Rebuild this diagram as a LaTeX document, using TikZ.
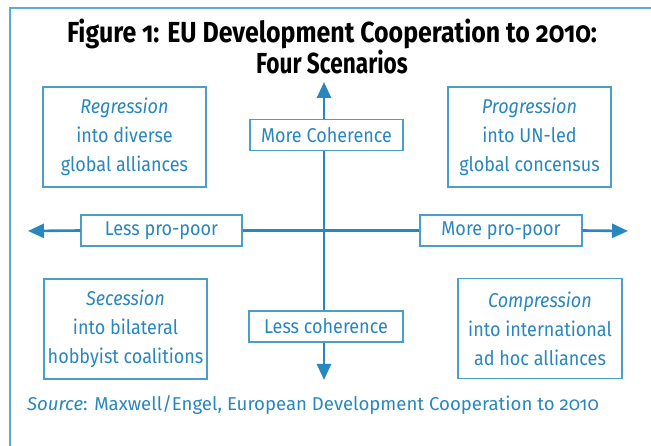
\documentclass[tikz,border=0pt]{standalone}
\usepackage{fontspec}
\usepackage{graphicx}
\setmainfont{Fira Sans}[Numbers=OldStyle]
\newfontfamily\boxfont{Fira Sans}[Numbers=OldStyle,FakeStretch=0.9]
\usetikzlibrary{arrows.meta}
\definecolor{inkblue}{RGB}{40,135,190}
\definecolor{boxblue}{RGB}{75,158,202}
\definecolor{frameblue}{RGB}{88,172,215}
\tikzset{
  scenario/.style={draw=boxblue, line width=1.4pt, fill=white, text=inkblue,
    minimum width=163pt, minimum height=100pt, inner sep=0pt, align=center,
    font=\boxfont\fontsize{20}{29}\selectfont},
  axislabel/.style={draw=boxblue, line width=1.4pt, fill=white, text=inkblue,
    minimum height=31pt, inner sep=0pt,
    font=\boxfont\fontsize{20}{22}\selectfont},
  axisline/.style={draw=inkblue, line width=2.6pt},
  axisarrow/.style={axisline, -{Triangle[length=16pt,width=14pt]}},
  titletext/.style={inner sep=0pt, anchor=base, text=black,
    font=\bfseries\fontsize{29}{32}\selectfont},
}
\begin{document}
\begin{tikzpicture}[x=1pt,y=-1pt]
\useasboundingbox (0,0) rectangle (651,446);
% outer frame on the top and left
\draw[frameblue, line width=2pt] (10,446) -- (10,8) -- (651,8);

% title
\node[titletext] (title1) at (332,43) {\scalebox{0.86}[1]{Figure 1: EU Development Cooperation to 2010:}};
\node[titletext] (title2) at (332,74) {\scalebox{0.78}[1]{Four Scenarios}};

% axis arrow tips and labels
\coordinate (tipN) at (324,82);
\coordinate (tipS) at (324,380);
\coordinate (tipW) at (28,231);
\coordinate (tipE) at (628,231);

\node[axislabel, minimum width=153pt] (morecoh) at (326.5,135) {More Coherence};
\node[axislabel, minimum width=154pt] (lesscoh) at (326,326.5) {Less coherence};
\node[axislabel, minimum width=161pt] (lesspoor) at (161.5,230.5) {Less pro-poor\hspace{10pt}};
\node[axislabel, minimum width=162pt] (morepoor) at (501,230.5) {More pro-poor};

% axes
\draw[axisline] (lesspoor.east) -- (morepoor.west);
\draw[axisline] (morecoh.south -| tipN) -- (lesscoh.north -| tipN);
\draw[axisarrow] (lesspoor.west) -- (tipW);
\draw[axisarrow] (morepoor.east) -- (tipE);
\draw[axisarrow] (morecoh.north -| tipN) -- (tipN);
\draw[axisarrow] (lesscoh.south -| tipS) -- (tipS);

% scenarios
\node[scenario] (regression) at (124.5,137) {\textit{Regression}\\into diverse\\global alliances};
\node[scenario] (progression) at (529.5,137) {\textit{Progression}\\into UN-led\\global concensus};
\node[scenario] (secession) at (125.5,329) {\textit{Secession}\\into bilateral\\hobbyist coalitions};
\node[scenario, minimum width=164pt] (compression) at (540,328.5) {\textit{Compression}\\into international\\ad hoc alliances};

% source line
\node[anchor=base west, inner sep=0pt, text=inkblue, font=\fontsize{18.6}{22}\selectfont] (source) at (27,410)
  {\textit{Source}: Maxwell/Engel, European Development Cooperation to 2010};
\end{tikzpicture}
\end{document}
